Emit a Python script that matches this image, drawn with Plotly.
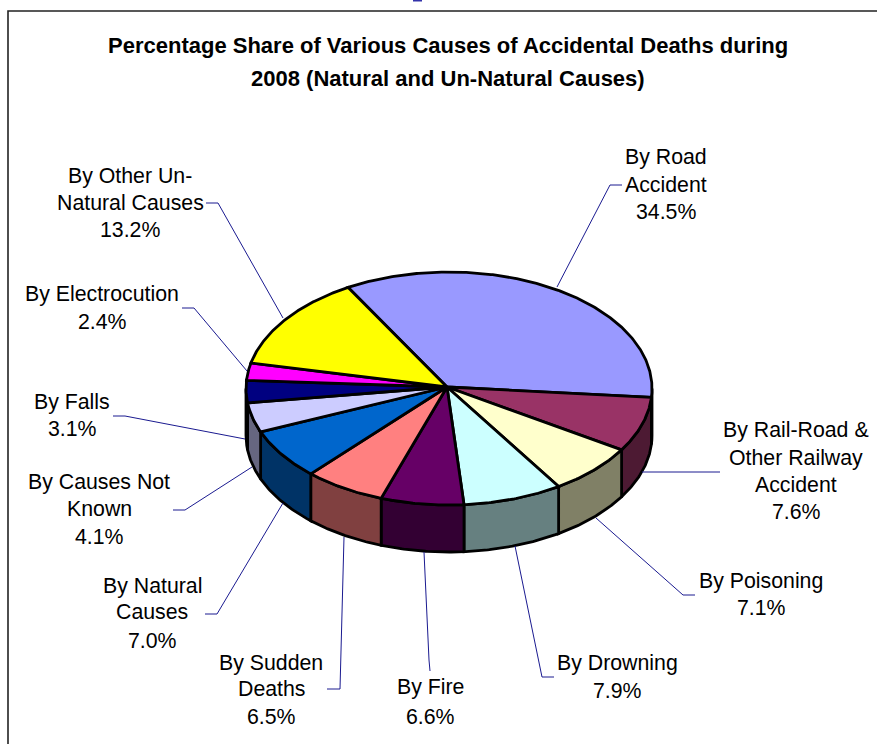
import numpy as np
import plotly.graph_objects as go

# ---- data ----
causes = ["By Road Accident", "By Rail-Road & Other Railway Accident", "By Poisoning",
          "By Drowning", "By Fire", "By Sudden Deaths", "By Natural Causes",
          "By Causes Not Known", "By Falls", "By Electrocution", "By Other Un-Natural Causes"]
shares = [34.5, 7.6, 7.1, 7.9, 6.6, 6.5, 7.0, 4.1, 3.1, 2.4, 13.2]
label_lines = [["By Road", "Accident", "34.5%"],
               ["By Rail-Road &", "Other Railway", "Accident", "7.6%"],
               ["By Poisoning", "7.1%"],
               ["By Drowning", "7.9%"],
               ["By Fire", "6.6%"],
               ["By Sudden", "Deaths", "6.5%"],
               ["By Natural", "Causes", "7.0%"],
               ["By Causes Not", "Known", "4.1%"],
               ["By Falls", "3.1%"],
               ["By Electrocution", "2.4%"],
               ["By Other Un-", "Natural Causes", "13.2%"]]
title_lines = ["Percentage Share of Various Causes of Accidental Deaths during",
               "2008 (Natural and Un-Natural Causes)"]

# ---- styles ----
top_colors = ["#9999FF", "#993366", "#FFFFCC", "#CCFFFF", "#660066", "#FF8080",
              "#0066CC", "#CCCCFF", "#000080", "#FF00FF", "#FFFF00"]
wall_colors = ["#4D4D80", "#4D1A33", "#808066", "#668080", "#330033", "#804040",
               "#003366", "#666680", "#000040", "#800080", "#808000"]
label_x = [666, 796, 761, 617, 430, 271, 152, 99, 72, 102, 130]
label_y = [[157, 185, 212], [430, 458, 485, 512], [581, 608], [663, 691], [687, 717],
           [663, 689, 717], [586, 612, 641], [482, 509, 537], [402, 429], [294, 322],
           [176, 203, 230]]
leaders = [[(622, 185), (610, 185), (557, 287)],
           [(720, 472), (707, 472), (642, 472)],
           [(695, 595), (683, 595), (596, 518)],
           [(554, 677), (542, 677), (515, 546)],
           [(430, 671), (429, 660), (424, 552)],
           [(327, 689), (340, 689), (344, 537)],
           [(205, 614), (217, 614), (283, 503)],
           [(173, 510), (185, 510), (252, 467)],
           [(113, 416), (125, 416), (245, 439)],
           [(182, 308), (194, 308), (247, 371)],
           [(206, 203), (218, 203), (283, 318)]]

CX, CY, RX, RY = 449.0, 388.5, 203.0, 116.5
APEX = (447.0, 387.0)
DEPTH = 47.0
START_DEG = 119.8
EDGE = 2.8

fig = go.Figure()


def rim(a0, a1):
    t = np.radians(np.linspace(a0, a1, max(3, int(abs(a1 - a0) * 2))))
    return CX + RX * np.cos(t), CY - RY * np.sin(t)


# slice boundaries, clockwise from the start angle
bounds = START_DEG - np.concatenate([[0], np.cumsum(shares)]) * 3.6

# outer walls of the front half
for i in range(len(shares)):
    lo, hi = max(bounds[i + 1], -180.0), min(bounds[i], 0.0)
    if hi <= lo:
        continue
    x, y = rim(hi, lo)
    fig.add_trace(go.Scatter(
        x=np.concatenate([x, x[::-1], x[:1]]),
        y=np.concatenate([y, y[::-1] + DEPTH, y[:1]]),
        mode="lines", fill="toself", fillcolor=wall_colors[i],
        line=dict(color="black", width=EDGE), hoverinfo="skip", showlegend=False))

# top faces
for i, cause in enumerate(causes):
    x, y = rim(bounds[i], bounds[i + 1])
    fig.add_trace(go.Scatter(
        x=np.concatenate([[APEX[0]], x, [APEX[0]]]),
        y=np.concatenate([[APEX[1]], y, [APEX[1]]]),
        mode="lines", fill="toself", fillcolor=top_colors[i], name=cause,
        line=dict(color="black", width=EDGE), hoverinfo="skip", showlegend=False))

# leader lines
for pts in leaders:
    fig.add_trace(go.Scatter(
        x=[p[0] for p in pts], y=[p[1] for p in pts], mode="lines",
        line=dict(color="#1a1a90", width=1), hoverinfo="skip", showlegend=False))

annotations = []
LABEL_FONT = dict(family="Liberation Sans", size=21.3, color="#000000")
for lines, xc, ys in zip(label_lines, label_x, label_y):
    for line, yc in zip(lines, ys):
        annotations.append(dict(x=xc, y=yc, text=line, showarrow=False, xref="x", yref="y",
                                xanchor="center", yanchor="middle", font=LABEL_FONT))
for line, yc in zip(title_lines, [45, 78]):
    annotations.append(dict(x=448, y=yc, text="<b>%s</b>" % line, showarrow=False, xref="x", yref="y",
                            xanchor="center", yanchor="middle",
                            font=dict(family="Liberation Sans", size=22, color="#000000")))

shapes = [
    dict(type="path", path="M 8 744 L 8 11 L 877 11", xref="x", yref="y",
         line=dict(color="#222222", width=1.6), layer="below"),
    dict(type="rect", x0=413, x1=422, y0=0, y1=1.5, xref="x", yref="y",
         fillcolor="#3333AA", line=dict(width=0), layer="below"),
]

fig.update_layout(
    width=877, height=744, margin=dict(l=0, r=0, t=0, b=0),
    paper_bgcolor="white", plot_bgcolor="white", showlegend=False,
    xaxis=dict(range=[0, 877], visible=False, fixedrange=True),
    yaxis=dict(range=[744, 0], visible=False, fixedrange=True),
    annotations=annotations, shapes=shapes,
)
fig.write_html("out.html", config={"displayModeBar": False},
               post_script="document.body.style.margin='0';document.documentElement.style.overflow='hidden';")
